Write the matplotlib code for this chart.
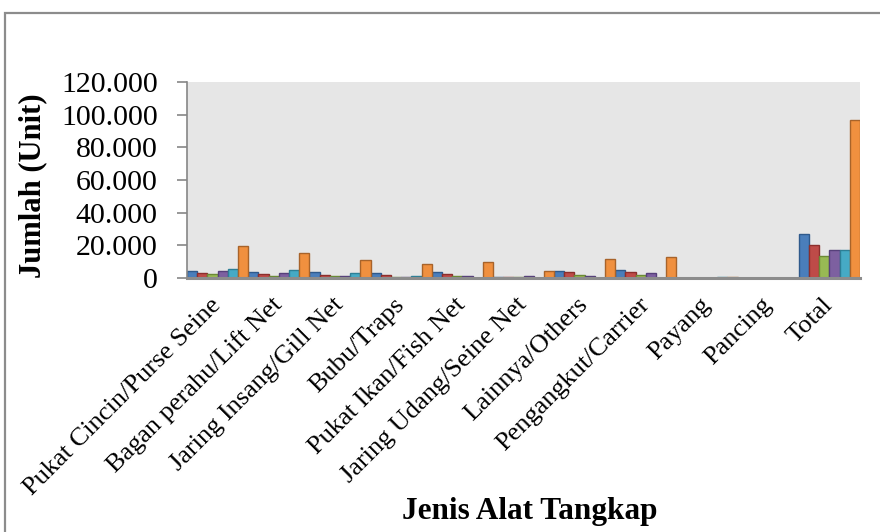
import matplotlib.pyplot as plt
import numpy as np
from matplotlib.patches import Rectangle
from matplotlib.ticker import FuncFormatter

# jenis alat tangkap (kategori sumbu x)
kategori = ["Pukat Cincin/Purse Seine", "Bagan perahu/Lift Net", "Jaring Insang/Gill Net",
            "Bubu/Traps", "Pukat Ikan/Fish Net", "Jaring Udang/Seine Net", "Lainnya/Others",
            "Pengangkut/Carrier", "Payang", "Pancing", "Total"]

# six series, values (unit)
seri_biru = [4000, 3400, 3400, 2800, 3500, 600, 4400, 4600, 0, 0, 27200]
seri_merah = [3200, 2300, 2100, 1700, 2600, 600, 3400, 3400, 0, 0, 20400]
seri_hijau = [2200, 1100, 1100, 900, 1500, 700, 2100, 2100, 0, 0, 13200]
seri_ungu = [4000, 3200, 1300, 900, 1500, 1200, 1300, 2800, 0, 0, 16900]
seri_cyan = [5800, 4800, 2900, 1500, 0, 0, 0, 0, 700, 300, 16900]
seri_oranye = [19400, 15500, 11200, 8500, 9700, 4400, 11800, 12700, 700, 300, 96900]

yticks = [0, 20000, 40000, 60000, 80000, 100000, 120000]

semua = [seri_biru, seri_merah, seri_hijau, seri_ungu, seri_cyan, seri_oranye]
warna = ["#4A7EBB", "#BE4B48", "#98B954", "#7D60A0", "#46AAC5", "#F0903F"]
tepi = ["#2F5A8C", "#8C2F2D", "#6B8A35", "#56407A", "#2D7F96", "#A8632A"]

plt.rcParams['font.family'] = ['Liberation Serif', 'DejaVu Serif']

fig = plt.figure(figsize=(8.8, 5.32), dpi=100)
ax = fig.add_axes([187 / 880, 1 - 278 / 532, 673 / 880, 196 / 532])
ax.set_facecolor("#E6E6E6")

x = np.arange(len(kategori))
w = 1 / 6
for i, vals in enumerate(semua):
    ax.bar(x - 0.5 + (i + 0.5) * w, vals, width=w, color=warna[i],
           edgecolor=tepi[i], linewidth=1.0, zorder=2)

ax.set_xlim(-0.5, len(kategori) - 0.5)
ax.set_ylim(0, 120000)
ax.set_yticks(yticks)
ax.yaxis.set_major_formatter(FuncFormatter(lambda v, p: f"{int(v):,}".replace(",", ".")))
ax.tick_params(axis='y', labelsize=21.5, length=7, width=1.2, color="#868686", pad=14)

ax.set_xticks(x)
ax.set_xticklabels(kategori, rotation=45, ha='right', va='center',
                   rotation_mode='anchor', fontsize=19)
ax.tick_params(axis='x', length=0, pad=17)

for s in ['top', 'right']:
    ax.spines[s].set_visible(False)
ax.spines['left'].set_color("#868686")
ax.spines['left'].set_linewidth(1.2)
ax.spines['bottom'].set_color("#8C8C8C")
ax.spines['bottom'].set_linewidth(2.2)

fig.text(33 / 880, 1 - 186 / 532, "Jumlah (Unit)", rotation=90, fontsize=22,
         fontweight='bold', ha='center', va='center')
fig.text(530 / 880, 1 - 512 / 532, "Jenis Alat Tangkap", fontsize=22.5,
         fontweight='bold', ha='center', va='center')

# outer chart frame
fig.patches.append(Rectangle((5 / 880, -0.1), 1.2, 1.1 - 13 / 532, transform=fig.transFigure,
                             fill=False, edgecolor="#8C8C8C", linewidth=1.6))

fig.savefig("out.png", dpi=100)
